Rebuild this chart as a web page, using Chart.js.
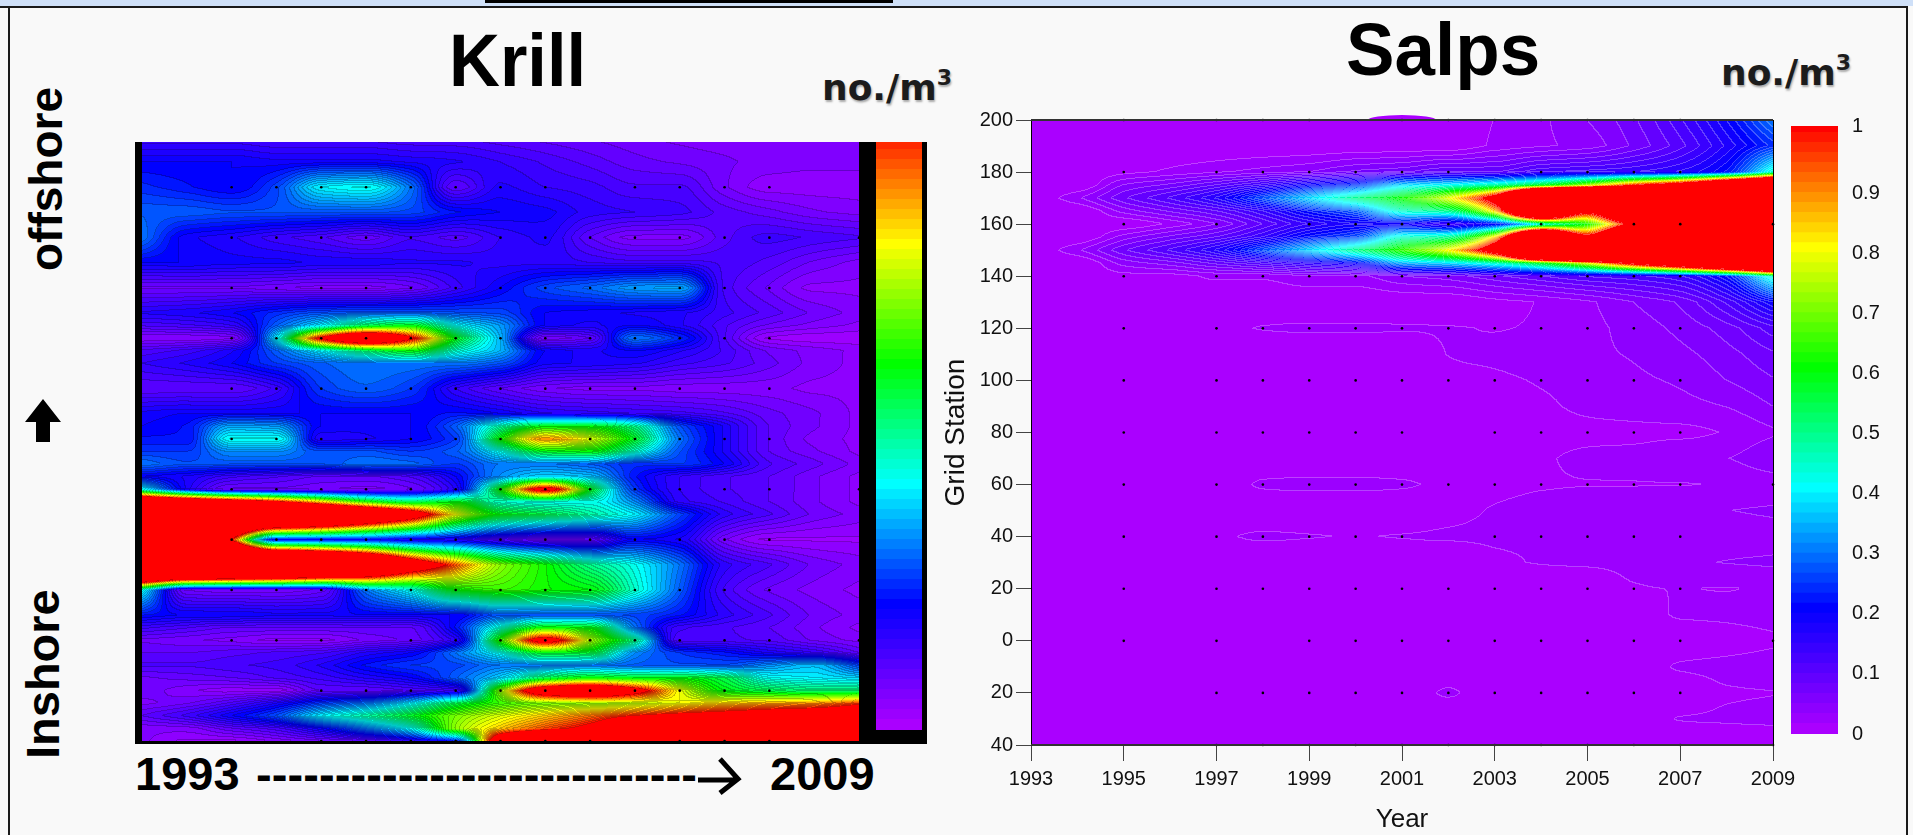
<!DOCTYPE html>
<html><head><meta charset="utf-8">
<script src="https://cdn.jsdelivr.net/npm/chart.js@4"></script>
<style>
html,body{margin:0;padding:0;background:#f9f9f9;width:1913px;height:835px;overflow:hidden;font-family:"Liberation Sans",Arial,sans-serif}
.abs{position:absolute}
canvas{position:absolute;display:block}
.t{position:absolute;font-weight:bold;color:#000;white-space:nowrap;line-height:1;transform-origin:0 0}
.unit{position:absolute;font-family:"DejaVu Sans";font-weight:bold;font-size:36px;color:#1c1c1c;line-height:1;white-space:nowrap;text-shadow:1px 2px 2px #aaa}
.unit sup{font-size:22px;vertical-align:baseline;position:relative;top:-15px}
</style></head><body>
<div class="abs" style="left:0;top:0;width:1913px;height:6px;background:#cfe0f8"></div>
<div class="abs" style="left:485px;top:0;width:408px;height:3px;background:#000"></div>
<div class="abs" style="left:0;top:6px;width:1908px;height:2px;background:#1a1a1a"></div>
<div class="abs" style="left:8px;top:6px;width:2px;height:829px;background:#1a1a1a"></div>
<div class="abs" style="left:1906px;top:6px;width:2px;height:829px;background:#1a1a1a"></div>

<div class="t" style="left:449px;top:23px;font-size:75px;transform:scaleX(.94)">Krill</div>
<div class="t" style="left:1346px;top:12px;font-size:75px;transform:scaleX(.97)">Salps</div>
<div class="unit" style="left:822px;top:70px">no./m<sup>3</sup></div>
<div class="unit" style="left:1721px;top:55px">no./m<sup>3</sup></div>

<div class="t" style="left:23px;top:271px;font-size:46px;transform:rotate(-90deg)">offshore</div>
<div class="t" style="left:19px;top:759px;font-size:47px;transform:rotate(-90deg)">Inshore</div>
<svg class="abs" style="left:20px;top:395px" width="46" height="50"><polygon points="23,4 41,27 30,27 30,47 16,47 16,27 5,27" fill="#000"/></svg>

<div class="t" style="left:135px;top:750px;font-size:47px">1993</div>
<div class="t" style="left:256px;top:750px;font-size:47px;letter-spacing:.1px">----------------------------</div>
<svg class="abs" style="left:690px;top:755px" width="56" height="42"><path d="M8 25 H46 M30 4 L48 24 L30 38" fill="none" stroke="#000" stroke-width="5"/></svg>
<div class="t" style="left:770px;top:750px;font-size:47px">2009</div>

<div class="abs" style="left:135px;top:142px;width:792px;height:602px;background:#000"></div>

<script>
const years=[1993,1994,1995,1996,1997,1998,1999,2000,2001,2002,2003,2004,2005,2006,2007,2008,2009];

// Krill abundance (no./m3) by grid station; values over 1 saturate to red
const krillStations=[200,190,180,170,160,150,140,130,125,120,115,110,100,90,85,80,75,70,65,60,55,50,40,30,20,10,5,0,-5,-10,-15,-20,-25,-30,-35,-40];
const krill200=[.13,.13,.13,.12,.12,.12,.11,.11,.10,.09,.08,.07,.06,.056,.056,.056,.056];
const krill190=[.20,.20,.20,.19,.19,.19,.18,.17,.15,.13,.11,.09,.08,.07,.06,.055,.055];
const krill180=[.24,.22,.20,.26,.40,.42,.30,.10,.17,.15,.14,.12,.12,.07,.04,.04,.04];
const krill170=[.28,.28,.27,.27,.27,.27,.26,.22,.20,.19,.16,.15,.14,.11,.09,.07,.06];
const krill160=[.30,.19,.17,.14,.12,.09,.13,.11,.15,.17,.10,.06,.06,.11,.14,.13,.12];
const krill150=[.20,.20,.19,.19,.18,.18,.17,.17,.16,.16,.15,.14,.14,.13,.11,.08,.06];
const krill140=[.08,.08,.08,.07,.06,.06,.08,.14,.20,.26,.29,.33,.34,.13,.08,.045,.045];
const krill130=[.17,.18,.20,.24,.27,.28,.28,.27,.26,.20,.19,.18,.17,.14,.11,.08,.06];
const krill125=[.12,.13,.15,.28,.40,.55,.60,.42,.33,.20,.18,.20,.17,.12,.08,.06,.045];
const krill120=[.05,.05,.06,.40,1.05,1.35,1.05,.60,.35,.07,.10,.30,.24,.12,.03,.02,.02];
const krill115=[.12,.14,.18,.28,.40,.52,.60,.45,.35,.20,.18,.20,.17,.13,.08,.06,.045];
const krill110=[.15,.17,.20,.25,.28,.30,.30,.30,.27,.19,.18,.17,.14,.12,.09,.06,.045];
const krill100=[.10,.10,.10,.14,.25,.28,.25,.15,.10,.07,.06,.06,.055,.055,.055,.045,.045];
const krill90=[.19,.20,.20,.20,.20,.20,.20,.22,.20,.17,.16,.15,.14,.12,.09,.07,.045];
const krill85=[.20,.22,.34,.33,.20,.19,.20,.28,.48,.60,.60,.50,.27,.18,.10,.07,.045];
const krill80=[.22,.22,.42,.42,.17,.18,.20,.25,.62,.90,.78,.58,.30,.18,.10,.06,.045];
const krill75=[.25,.25,.32,.32,.27,.27,.25,.28,.42,.58,.60,.45,.27,.18,.10,.07,.045];
const krill70=[.30,.27,.27,.27,.27,.30,.29,.25,.30,.30,.28,.24,.25,.20,.12,.09,.06];
const krill65=[.20,.18,.14,.12,.10,.10,.12,.20,.32,.38,.36,.22,.15,.12,.10,.07,.045];
const krill60=[.42,.18,.08,.08,.07,.06,.08,.17,.62,1.1,.60,.25,.15,.12,.10,.07,.045];
const krill55=[1.5,1.35,1.2,1.05,.85,.65,.55,.60,.45,.42,.42,.32,.16,.13,.10,.07,.045];
const krill50=[2.4,2.2,2.1,2.0,1.8,1.5,1.2,.80,.60,.55,.48,.40,.26,.16,.12,.08,.06];
const krill40=[2.5,2.5,1.0,.20,.20,.20,.17,.16,.12,.09,.10,.20,.18,.07,.03,.03,.03];
const krill30=[2.5,2.4,2.3,2.2,2.0,1.7,1.25,.95,.72,.62,.50,.42,.30,.16,.12,.08,.06];
const krill20=[.42,.08,.07,.07,.09,.30,.42,.60,.65,.62,.60,.45,.28,.13,.08,.06,.045];
const krill10=[.22,.20,.20,.19,.19,.20,.20,.20,.27,.27,.27,.26,.22,.16,.12,.08,.06];
const krill5=[.14,.12,.10,.10,.10,.10,.10,.22,.45,.62,.60,.30,.14,.12,.10,.07,.045];
const krill0=[.08,.07,.06,.045,.045,.07,.09,.16,.65,1.1,.75,.50,.12,.12,.11,.08,.06];
const krillN5=[.10,.10,.11,.12,.13,.17,.20,.30,.42,.58,.56,.32,.25,.22,.18,.15,.10];
const krillN10=[.12,.12,.13,.14,.17,.22,.25,.26,.30,.30,.30,.28,.27,.27,.32,.36,.26];
const krillN15=[.08,.09,.10,.12,.14,.17,.20,.28,.38,.55,.62,.60,.60,.55,.42,.40,.38];
const krillN20=[.08,.055,.04,.04,.10,.10,.12,.14,.72,1.2,1.3,1.1,.80,.60,.55,.52,.52];
const krillN25=[.06,.08,.12,.18,.25,.30,.40,.55,.65,.70,.72,.75,.80,.85,.88,.90,.97];
const krillN30=[.10,.14,.20,.27,.40,.48,.58,.70,.78,.85,.92,1.0,1.05,1.08,1.12,1.15,1.2];
const krillN35=[.055,.06,.10,.13,.20,.30,.42,.72,.85,.95,1.05,1.3,1.5,1.5,1.5,1.5,1.5];
const krillN40=[.055,.03,.03,.055,.08,.10,.15,.22,1.2,1.5,1.7,1.8,1.8,1.8,1.8,1.8,1.8];
const krillRows=[krill200,krill190,krill180,krill170,krill160,krill150,krill140,krill130,krill125,krill120,krill115,krill110,krill100,krill90,krill85,krill80,krill75,krill70,krill65,krill60,krill55,krill50,krill40,krill30,krill20,krill10,krill5,krill0,krillN5,krillN10,krillN15,krillN20,krillN25,krillN30,krillN35,krillN40];

// Salp abundance (no./m3) by grid station
const salpStations=[200,190,180,175,170,165,160,155,150,145,140,130,120,110,100,90,80,70,60,50,40,30,20,10,0,-10,-20,-30,-40];
const salp200=[0,0,0,0,0,0,0,0,0,0,.017,.03,.05,.08,.13,.20,.30];
const salp190=[0,0,0,0,0,0,0,0,0,0,.02,.03,.04,.07,.11,.17,.24];
const salp180=[0,0,.01,.02,.03,.04,.05,.07,.08,.10,.10,.13,.14,.15,.17,.22,.45];
const salp175=[0,0,.05,.07,.10,.14,.20,.25,.38,.42,.48,.58,.75,1.0,1.2,1.6,2.0];
const salp170=[0,.03,.08,.12,.17,.27,.38,.50,.62,.80,1.15,2.6,3,3,3,3,3];
const salp165=[0,0,.04,.07,.10,.15,.22,.28,.45,.50,.85,1.9,1.1,2.0,3,3,3];
const salp160=[0,0,0,.02,.05,.10,.15,.18,.18,.13,.20,.42,.62,1.15,2.7,3,3];
const salp155=[0,0,.04,.07,.10,.15,.22,.27,.45,.50,.85,1.9,1.1,2.0,3,3,3];
const salp150=[0,.03,.08,.12,.17,.27,.38,.50,.65,.82,1.2,2.6,3,3,3,3,3];
const salp145=[0,0,.04,.06,.09,.12,.16,.20,.34,.38,.45,.58,.80,1.1,1.4,1.8,2.2];
const salp140=[0,0,.01,.01,.02,.02,.03,.03,.05,.06,.08,.10,.12,.13,.15,.22,.45];
const salp130=[0,0,0,0,0,0,0,0,0,0,.01,.018,.03,.05,.07,.12,.20];
const salp120=[0,0,0,0,.008,.018,.02,.02,.019,.018,.016,.019,.028,.04,.055,.075,.11];
const salp110=[0,0,0,0,0,0,0,0,0,.017,.02,.025,.03,.035,.045,.06,.08];
const salp100=[0,0,0,0,0,0,0,0,0,.012,.014,.018,.022,.03,.036,.05,.065];
const salp90=[0,0,0,0,0,0,0,0,0,0,.01,.014,.02,.024,.028,.034,.05];
const salp80=[0,0,0,0,0,0,0,0,0,0,0,.01,.012,.012,.012,.018,.03];
const salp70=[0,0,0,0,0,0,0,0,0,0,0,.014,.02,.022,.03,.033,.05];
const salp60=[0,0,0,0,0,.02,.022,.022,.02,.012,.012,.015,.016,.016,.016,.018,.02];
const salp50=[0,0,0,0,0,0,0,0,0,.01,.018,.022,.024,.026,.03,.033,.036];
const salp40=[0,0,0,0,.012,.02,.018,.016,.018,.02,.02,.018,.02,.02,.02,.024,.026];
const salp30=[0,0,0,0,0,0,0,0,0,0,.012,.018,.02,.022,.03,.034,.036];
const salp20=[0,0,0,0,0,0,0,0,0,0,0,0,0,.015,.017,.016,.02];
const salp10=[0,0,0,0,0,0,0,0,0,0,0,0,0,0,.02,.022,.026];
const salp0=[0,0,0,0,0,0,0,0,0,0,0,0,0,0,0,.005,.012];
const salpN10=[0,0,0,0,0,0,0,0,0,0,0,0,0,0,.02,.024,.028];
const salpN20=[0,0,0,0,0,0,0,0,0,.02,0,0,0,0,0,.014,.016];
const salpN30=[0,0,0,0,0,0,0,0,0,0,0,0,0,0,.018,.02,.022];
const salpN40=[0,0,0,0,0,0,0,0,0,0,0,0,0,0,0,0,0];
const salpRows=[salp200,salp190,salp180,salp175,salp170,salp165,salp160,salp155,salp150,salp145,salp140,salp130,salp120,salp110,salp100,salp90,salp80,salp70,salp60,salp50,salp40,salp30,salp20,salp10,salp0,salpN10,salpN20,salpN30,salpN40];

// Sampling stations shown as dots: [station, years...]
const krillDots=[
[180,1995,1996,1997,1998,1999,2000,2001,2002,2004,2005,2006,2007],
[160,1995,1996,1997,1998,1999,2000,2001,2002,2003,2004,2005,2006,2007,2009],
[140,1995,1996,1997,1998,1999,2000,2001,2002,2003,2004,2005,2006,2007],
[120,1995,1996,1997,1998,1999,2000,2001,2002,2003,2004,2005,2006,2007],
[100,1995,1996,1997,1998,1999,2000,2001,2002,2003,2004,2005,2006,2007],
[80,1995,1996,1997,1998,1999,2000,2001,2003,2004,2005,2006,2007],
[60,1995,1996,1997,1998,1999,2000,2001,2002,2003,2004,2005,2006,2007,2009],
[40,1995,1996,1997,1998,1999,2000,2001,2002,2003,2004,2005,2006,2007],
[20,1995,1996,1997,1998,1999,2000,2001,2002,2003,2004,2005,2006,2007],
[0,1995,1996,1997,1999,2000,2001,2002,2003,2004,2005,2006,2007,2009],
[-20,1997,1998,1999,2000,2001,2002,2003,2004,2005,2006,2007],
[-40,1997,1998,1999,2000,2001,2002,2003,2005,2006,2007]];
const salpDots=[
[200,1995,1997,1998,1999,2001,2002,2003,2004,2005,2006,2007],
[180,1995,1997,1998,1999,2000,2001,2002,2004,2005,2006,2007],
[160,1995,1997,1999,2000,2001,2002,2004,2006,2007,2009],
[140,1995,1997,1998,1999,2000,2001,2002,2003,2004,2005,2006,2007],
[120,1995,1997,1998,1999,2000,2001,2002,2003,2004,2005,2006,2007],
[100,1995,1997,1998,1999,2000,2001,2002,2003,2004,2005,2006,2007],
[80,1995,1997,1998,1999,2000,2001,2003,2004,2005,2006,2007],
[60,1995,1997,1998,1999,2000,2001,2002,2003,2004,2005,2006,2007,2009],
[40,1995,1997,1998,1999,2000,2001,2003,2004,2005,2006,2007],
[20,1995,1997,1998,1999,2000,2001,2002,2003,2004,2005,2006,2007],
[0,1995,1997,1999,2000,2001,2002,2003,2004,2005,2006,2007,2009],
[-20,1997,1998,1999,2000,2001,2002,2003,2004,2005,2006,2007],
[-40,1997,1998,1999,2000,2001,2002,2003,2004,2005,2006,2007,2009]];

const colorStops=[[0,170,0,255],[.2,0,0,255],[.4,0,255,255],[.6,0,255,0],[.8,255,255,0],[1,255,0,0]];
const bandCount=60;

function rainbow(v){
  if(v>=1)return [255,0,0];
  if(v<=0)v=0;
  for(let i=1;i<colorStops.length;i++){
    const a=colorStops[i-1],b=colorStops[i];
    if(v<=b[0]){const f=(v-a[0])/(b[0]-a[0]);return [a[1]+(b[1]-a[1])*f,a[2]+(b[2]-a[2])*f,a[3]+(b[3]-a[3])*f];}
  }
  return [255,0,0];
}
function pchipSlopes(xs,ys){
  const n=xs.length,m=new Array(n),d=[];
  for(let i=0;i<n-1;i++)d.push((ys[i+1]-ys[i])/(xs[i+1]-xs[i]));
  m[0]=d[0];m[n-1]=d[n-2];
  for(let i=1;i<n-1;i++){
    if(d[i-1]*d[i]<=0){m[i]=0;continue;}
    const h0=xs[i]-xs[i-1],h1=xs[i+1]-xs[i],w1=2*h1+h0,w2=h1+2*h0;
    m[i]=(w1+w2)/(w1/d[i-1]+w2/d[i]);
  }
  return m;
}
function hermite(xs,ys,m,x,i){
  const h=xs[i+1]-xs[i],t=(x-xs[i])/h,t2=t*t,t3=t2*t;
  return (2*t3-3*t2+1)*ys[i]+(t3-2*t2+t)*h*m[i]+(-2*t3+3*t2)*ys[i+1]+(t3-t2)*h*m[i+1];
}
function segment(xs,x,hint){
  let i=hint;
  while(i<xs.length-2&&x>xs[i+1])i++;
  while(i>0&&x<xs[i])i--;
  return i;
}
// Shades the chart area from the "field" dataset, positions taken from the chart's scales
function fieldPlugin(lineColor,lineAlpha){
  return {id:'field',beforeDatasetsDraw(chart){
    const ds=chart.data.datasets[0],nc=years.length,nr=ds.data.length/nc;
    const xS=chart.scales.x,yS=chart.scales.y,A=chart.chartArea;
    const left=Math.round(A.left),top=Math.round(A.top),w=Math.round(A.right)-left,h=Math.round(A.bottom)-top;
    const xs=[],ys=[],grid=[];
    for(let c=0;c<nc;c++)xs.push(xS.getPixelForValue(ds.data[c].x));
    for(let r=0;r<nr;r++){ys.push(yS.getPixelForValue(ds.data[r*nc].y));grid.push(ds.data.slice(r*nc,r*nc+nc).map(p=>p.v));}
    const mx=grid.map(g=>pchipSlopes(xs,g));
    const bands=new Int16Array(w*h);
    let cs=0;
    for(let px=0;px<w;px++){
      const x=Math.min(xs[nc-1],Math.max(xs[0],left+px+.5));
      cs=segment(xs,x,cs);
      const col=grid.map((g,r)=>hermite(xs,g,mx[r],x,cs));
      const my=pchipSlopes(ys,col);
      let rs=0;
      for(let py=0;py<h;py++){
        const y=Math.min(ys[nr-1],Math.max(ys[0],top+py+.5));
        rs=segment(ys,y,rs);
        const lin=col[rs]+(col[rs+1]-col[rs])*(y-ys[rs])/(ys[rs+1]-ys[rs]);
        const v=.85*lin+.15*hermite(ys,col,my,y,rs);
        bands[py*w+px]=v>=1?bandCount:Math.max(0,Math.floor(v*bandCount));
      }
    }
    const img=chart.ctx.createImageData(w,h),pal=[];
    for(let b=0;b<=bandCount;b++)pal.push(rainbow(b/bandCount));
    for(let py=0;py<h;py++)for(let px=0;px<w;px++){
      const k=py*w+px,b=bands[k],c=pal[b];
      let r=c[0],g=c[1],bl=c[2];
      const br=px<w-1?bands[k+1]:b,bd=py<h-1?bands[k+w]:b;
      const line=Math.abs(br-b)===1||Math.abs(bd-b)===1;
      if(line){r+=(lineColor[0]-r)*lineAlpha;g+=(lineColor[1]-g)*lineAlpha;bl+=(lineColor[2]-bl)*lineAlpha;}
      const o=k*4;img.data[o]=r;img.data[o+1]=g;img.data[o+2]=bl;img.data[o+3]=255;
    }
    chart.ctx.putImageData(img,left,top);
  }};
}
function fieldData(stations,rows){
  const out=[];
  stations.forEach((s,r)=>years.forEach((y,c)=>out.push({x:y,y:s,v:rows[r][c]})));
  return out;
}
function dotData(list){
  const out=[];
  list.forEach(row=>row.slice(1).forEach(y=>out.push({x:y,y:row[0]})));
  return out;
}
function addCanvas(l,t,w,h){
  const c=document.createElement('canvas');
  c.style.left=l+'px';c.style.top=t+'px';c.width=w;c.height=h;c.style.width=w+'px';c.style.height=h+'px';
  document.body.appendChild(c);return c;
}
function datasetsFor(stations,rows,dots){
  return [
    {label:'Abundance (no./m3)',data:fieldData(stations,rows),pointRadius:0,showLine:false},
    {label:'Stations',data:dotData(dots),pointRadius:1.3,pointBackgroundColor:'#000',pointBorderWidth:0,showLine:false,clip:false}
  ];
}
const base={responsive:false,animation:false,devicePixelRatio:1,events:[],plugins:{legend:{display:false},tooltip:{enabled:false}}};
Chart.defaults.font.family='"Liberation Sans",Arial,sans-serif';

// Krill panel
new Chart(addCanvas(142,142,717,599),{type:'scatter',
  data:{datasets:datasetsFor(krillStations,krillRows,krillDots)},
  options:{...base,layout:{padding:0,autoPadding:false},scales:{
    x:{type:'linear',min:1993,max:2009,display:false},
    y:{type:'linear',min:-40,max:198,display:false}}},
  plugins:[fieldPlugin([0,0,0],.22)]});

// Salps panel
const frame={id:'frame',afterDatasetsDraw(chart){
  const {ctx,chartArea:a}=chart;
  ctx.save();ctx.strokeStyle='#000';ctx.lineWidth=1;
  ctx.strokeRect(a.left+.5,a.top+.5,a.right-a.left,a.bottom-a.top);
  ctx.strokeStyle='#333';ctx.lineWidth=2;
  ctx.beginPath();ctx.moveTo(a.left,a.top);ctx.lineTo(a.right,a.top);ctx.moveTo(a.left,a.bottom);ctx.lineTo(a.right,a.bottom);ctx.stroke();
  ctx.restore();
},beforeDatasetsDraw(chart){
  const {ctx,scales}=chart,cx=scales.x.getPixelForValue(2001),cy=scales.y.getPixelForValue(200);
  ctx.save();ctx.fillStyle='#aa00ff';ctx.beginPath();ctx.ellipse(cx,cy,34,5,0,Math.PI,0);ctx.fill();ctx.restore();
}};
new Chart(addCanvas(930,105,873,730),{type:'scatter',
  data:{datasets:datasetsFor(salpStations,salpRows,salpDots)},
  options:{...base,layout:{autoPadding:false,padding:{top:15,right:30,left:0,bottom:0}},scales:{
    x:{type:'linear',min:1993,max:2009,
       afterFit(s){s.height=90;},
       border:{color:'#222'},
       grid:{display:true,drawOnChartArea:false,drawTicks:true,tickLength:16,color:'#444'},
       ticks:{stepSize:2,color:'#111',font:{size:20},padding:6,maxRotation:0,autoSkip:false,callback:v=>String(v)},
       title:{display:true,text:'Year',color:'#111',font:{size:26},padding:{top:18,bottom:0}}},
    y:{type:'linear',min:-40,max:200,
       afterFit(s){s.width=101;},
       border:{color:'#222'},
       grid:{display:true,drawOnChartArea:false,drawTicks:true,tickLength:15,color:'#444'},
       ticks:{stepSize:20,color:'#111',font:{size:20},padding:3,callback:v=>String(Math.abs(v))},
       title:{display:true,text:'Grid Station',color:'#111',font:{size:28},padding:{top:9,bottom:0}}}}},
  plugins:[fieldPlugin([255,255,255],.25),frame]});

// Colour bars
const barLevels=[];
for(let b=0;b<62;b++)barLevels.push(b);
function barSets(){
  return barLevels.map(b=>{const c=rainbow(b/bandCount);return {data:[1/bandCount],backgroundColor:`rgb(${c[0]|0},${c[1]|0},${c[2]|0})`,borderWidth:0,barPercentage:1,categoryPercentage:1,inflateAmount:1};});
}
new Chart(addCanvas(876,142,46,588),{type:'bar',
  data:{labels:['no./m3'],datasets:barSets()},
  options:{...base,layout:{padding:0,autoPadding:false},scales:{
    x:{stacked:true,display:false},
    y:{stacked:true,display:false,min:0,max:.98}}}});
new Chart(addCanvas(1791,116,100,630),{type:'bar',
  data:{labels:['no./m3'],datasets:barSets()},
  options:{...base,layout:{autoPadding:false,padding:{top:10,bottom:12}},scales:{
    x:{stacked:true,display:false},
    y:{stacked:true,position:'right',min:0,max:1.0116,
       afterFit(s){s.width=53;s.paddingTop=0;s.paddingBottom=0;},
       border:{display:false},
       grid:{display:false},
       ticks:{stepSize:.1,color:'#111',font:{size:20},padding:6,autoSkip:false,
              callback:v=>{const r=Math.round(v*10)/10;return r>1?'':String(r);}}}}}});
</script>
</body></html>
